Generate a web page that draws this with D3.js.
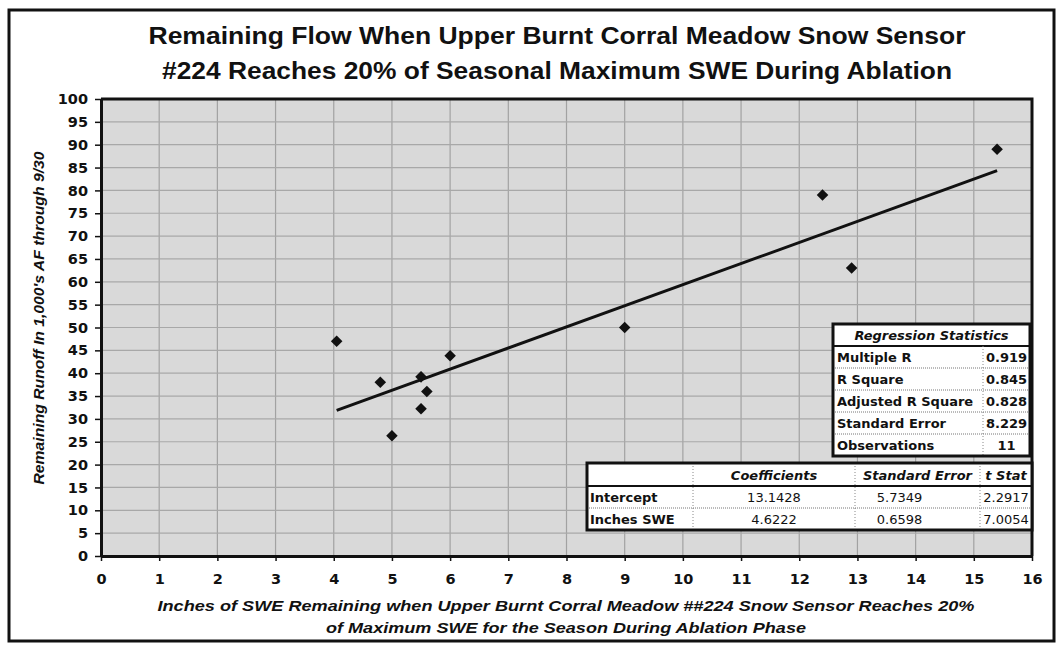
<!DOCTYPE html>
<html lang="en">
<head>
    <meta charset="UTF-8">
    <title>Remaining Flow - Upper Burnt Corral Meadow #224</title>
    <script src="https://cdn.jsdelivr.net/npm/d3@7"></script>
    <style>
        body { margin: 0; background: #fff; }
    </style>
</head>
<body>
<script type="application/javascript">
    // data
    const sweInches = [4.05, 4.8, 5.0, 5.5, 5.5, 5.6, 6.0, 9.0, 12.4, 12.9, 15.4];
    const runoffKaf = [47, 38, 26.3, 39.2, 32.2, 36, 43.8, 50, 79, 63, 89];
    const xTicks = d3.range(0, 17, 1);
    const yTicks = d3.range(0, 101, 5);

    // regression output
    const regStatLabels = ['Multiple R', 'R Square', 'Adjusted R Square', 'Standard Error', 'Observations'];
    const regStatValues = ['0.919', '0.845', '0.828', '8.229', '11'];
    const coefHeaders = ['', 'Coefficients', 'Standard Error', 't Stat'];
    const coefNames = ['Intercept', 'Inches SWE'];
    const coefValues = [['13.1428', '5.7349', '2.2917'], ['4.6222', '0.6598', '7.0054']];
    const intercept = 13.1428, slope = 4.6222;

    const w = 1057, h = 645;
    const ink = '#111';
    const arial = 'Arial, "Liberation Sans", sans-serif';
    const dejavu = '"DejaVu Sans", Arial, sans-serif';
    const svg = d3.select('body').append('svg')
        .attr('width', w)
        .attr('height', h)
        .attr('font-family', dejavu);

    // outer frame
    svg.append('rect')
        .attr('x', 9).attr('y', 10)
        .attr('width', 1045).attr('height', 631)
        .attr('fill', 'none').attr('stroke', ink).attr('stroke-width', 3);

    // title (the scan is wide, so widths are pinned)
    const title = svg.append('text')
        .attr('text-anchor', 'middle')
        .attr('font-family', arial)
        .attr('font-size', '23px').attr('font-weight', 'bold').attr('fill', ink);
    title.append('tspan').attr('x', 557).attr('y', 44)
        .attr('textLength', 817).attr('lengthAdjust', 'spacingAndGlyphs')
        .text('Remaining Flow When Upper Burnt Corral Meadow Snow Sensor');
    title.append('tspan').attr('x', 557).attr('y', 79)
        .attr('textLength', 790).attr('lengthAdjust', 'spacingAndGlyphs')
        .text('#224 Reaches 20% of Seasonal Maximum SWE During Ablation');

    const xScale = d3.scaleLinear().domain([0, 16]).range([101, 1032]);
    const yScale = d3.scaleLinear().domain([0, 100]).range([556, 99]);

    // plot area
    svg.append('rect')
        .attr('x', xScale(0)).attr('y', yScale(100))
        .attr('width', xScale(16) - xScale(0))
        .attr('height', yScale(0) - yScale(100))
        .attr('fill', '#d9d9d9');

    // grid
    svg.append('g').selectAll('line')
        .data(xTicks.slice(1, -1))
        .enter().append('line')
        .attr('x1', d => xScale(d)).attr('x2', d => xScale(d))
        .attr('y1', yScale(100)).attr('y2', yScale(0))
        .attr('stroke', '#a2a2a2').attr('stroke-width', 1.2);
    svg.append('g').selectAll('line')
        .data(yTicks.slice(1, -1))
        .enter().append('line')
        .attr('x1', xScale(0)).attr('x2', xScale(16))
        .attr('y1', d => yScale(d)).attr('y2', d => yScale(d))
        .attr('stroke', '#a8a8a8').attr('stroke-width', 1.2);

    // axes
    const xAxis = svg.append('g')
        .attr('transform', `translate(0,${yScale(0)})`)
        .call(d3.axisBottom(xScale).tickValues(xTicks).tickSize(5).tickPadding(13).tickSizeOuter(0));
    const yAxis = svg.append('g')
        .attr('transform', `translate(${xScale(0)},0)`)
        .call(d3.axisLeft(yScale).tickValues(yTicks).tickSize(6).tickPadding(7).tickSizeOuter(0));
    [xAxis, yAxis].forEach(a => {
        a.select('.domain').attr('stroke', ink).attr('stroke-width', 3);
        a.selectAll('.tick line').attr('stroke', ink).attr('stroke-width', 1.5);
        a.selectAll('.tick text')
            .attr('font-family', dejavu)
            .attr('font-size', '14.5px').attr('font-weight', 'bold').attr('fill', ink);
    });

    // top and right border of plot
    svg.append('path')
        .attr('d', `M${xScale(0)},${yScale(100)}H${xScale(16)}V${yScale(0)}`)
        .attr('fill', 'none').attr('stroke', ink).attr('stroke-width', 3);

    // axis titles
    const xTitle = svg.append('text')
        .attr('text-anchor', 'middle')
        .attr('font-family', arial)
        .attr('font-size', '15.5px').attr('font-weight', 'bold').attr('font-style', 'italic').attr('fill', ink);
    xTitle.append('tspan').attr('x', 566).attr('y', 611)
        .attr('textLength', 817).attr('lengthAdjust', 'spacingAndGlyphs')
        .text('Inches of SWE Remaining when Upper Burnt Corral Meadow ##224 Snow Sensor Reaches 20%');
    xTitle.append('tspan').attr('x', 566).attr('y', 633)
        .attr('textLength', 480).attr('lengthAdjust', 'spacingAndGlyphs')
        .text('of Maximum SWE for the Season During Ablation Phase');

    svg.append('text')
        .attr('transform', `translate(44,318) rotate(-90)`)
        .attr('text-anchor', 'middle')
        .attr('font-family', arial)
        .attr('font-size', '15px').attr('font-weight', 'bold').attr('font-style', 'italic').attr('fill', ink)
        .attr('textLength', 333).attr('lengthAdjust', 'spacingAndGlyphs')
        .text("Remaining Runoff In 1,000's AF through 9/30");

    // regression line
    const xMin = d3.min(sweInches), xMax = d3.max(sweInches);
    svg.append('line')
        .attr('x1', xScale(xMin)).attr('y1', yScale(intercept + slope * xMin))
        .attr('x2', xScale(xMax)).attr('y2', yScale(intercept + slope * xMax))
        .attr('stroke', ink).attr('stroke-width', 3);

    // points
    svg.append('g').selectAll('path')
        .data(sweInches.map((d, i) => [d, runoffKaf[i]]))
        .enter().append('path')
        .attr('transform', d => `translate(${xScale(d[0])},${yScale(d[1])})`)
        .attr('d', d3.symbol(d3.symbolDiamond2, 85))
        .attr('fill', ink);

    // regression statistics table
    const t1 = { x: 833, y: 324, w: 197, head: 22, row: 22, split: 983 };
    const g1 = svg.append('g');
    g1.append('rect')
        .attr('x', t1.x).attr('y', t1.y)
        .attr('width', t1.w).attr('height', t1.head + t1.row * regStatLabels.length)
        .attr('fill', '#fff');
    g1.append('text')
        .attr('x', t1.x + t1.w / 2).attr('y', t1.y + 16)
        .attr('text-anchor', 'middle')
        .attr('font-size', '13px').attr('font-weight', 'bold').attr('font-style', 'italic').attr('fill', ink)
        .text('Regression Statistics');
    g1.append('line')
        .attr('x1', t1.x).attr('x2', t1.x + t1.w)
        .attr('y1', t1.y + t1.head).attr('y2', t1.y + t1.head)
        .attr('stroke', ink).attr('stroke-width', 2);
    g1.append('line')
        .attr('x1', t1.split).attr('x2', t1.split)
        .attr('y1', t1.y + t1.head).attr('y2', t1.y + t1.head + t1.row * regStatLabels.length)
        .attr('stroke', '#888').attr('stroke-dasharray', '1,2');
    g1.selectAll('.sep')
        .data(regStatLabels.slice(1))
        .enter().append('line')
        .attr('x1', t1.x).attr('x2', t1.x + t1.w)
        .attr('y1', (d, i) => t1.y + t1.head + t1.row * (i + 1))
        .attr('y2', (d, i) => t1.y + t1.head + t1.row * (i + 1))
        .attr('stroke', '#777').attr('stroke-dasharray', '1,1');
    g1.selectAll('.lab')
        .data(regStatLabels)
        .enter().append('text')
        .attr('x', t1.x + 4)
        .attr('y', (d, i) => t1.y + t1.head + t1.row * i + 16)
        .attr('font-size', '13px').attr('font-weight', 'bold').attr('fill', ink)
        .text(d => d);
    g1.selectAll('.val')
        .data(regStatValues)
        .enter().append('text')
        .attr('x', (t1.split + t1.x + t1.w) / 2)
        .attr('y', (d, i) => t1.y + t1.head + t1.row * i + 16)
        .attr('text-anchor', 'middle')
        .attr('font-size', '13px').attr('font-weight', 'bold').attr('fill', ink)
        .text(d => d);
    g1.append('rect')
        .attr('x', t1.x).attr('y', t1.y)
        .attr('width', t1.w).attr('height', t1.head + t1.row * regStatLabels.length)
        .attr('fill', 'none').attr('stroke', ink).attr('stroke-width', 3);

    // coefficients table
    const cols = [587, 693, 855, 980, 1032];
    const t2 = { y: 463, head: 23, row: 22 };
    const g2 = svg.append('g');
    const t2h = t2.head + t2.row * coefNames.length;
    g2.append('rect')
        .attr('x', cols[0]).attr('y', t2.y)
        .attr('width', cols[4] - cols[0]).attr('height', t2h)
        .attr('fill', '#fff');
    g2.selectAll('.col')
        .data(cols.slice(1, -1))
        .enter().append('line')
        .attr('x1', d => d).attr('x2', d => d)
        .attr('y1', t2.y).attr('y2', t2.y + t2h)
        .attr('stroke', '#888').attr('stroke-dasharray', '1,2');
    g2.append('line')
        .attr('x1', cols[0]).attr('x2', cols[4])
        .attr('y1', t2.y + t2.head).attr('y2', t2.y + t2.head)
        .attr('stroke', ink).attr('stroke-width', 2);
    g2.append('line')
        .attr('x1', cols[0]).attr('x2', cols[4])
        .attr('y1', t2.y + t2.head + t2.row).attr('y2', t2.y + t2.head + t2.row)
        .attr('stroke', '#777').attr('stroke-dasharray', '1,1');
    g2.selectAll('.hd')
        .data(coefHeaders)
        .enter().append('text')
        .attr('x', (d, i) => (cols[i] + cols[i + 1]) / 2)
        .attr('y', t2.y + 17)
        .attr('text-anchor', 'middle')
        .attr('font-size', '13px').attr('font-weight', 'bold').attr('font-style', 'italic').attr('fill', ink)
        .text(d => d);
    g2.selectAll('.nm')
        .data(coefNames)
        .enter().append('text')
        .attr('x', cols[0] + 3)
        .attr('y', (d, i) => t2.y + t2.head + t2.row * i + 16)
        .attr('font-size', '13px').attr('font-weight', 'bold').attr('fill', ink)
        .text(d => d);
    coefValues.forEach((row, r) => {
        g2.selectAll('.v' + r)
            .data(row)
            .enter().append('text')
            .attr('x', (d, i) => (cols[i + 1] + cols[i + 2]) / 2 - (i === 1 ? 18 : 0))
            .attr('y', t2.y + t2.head + t2.row * r + 16)
            .attr('text-anchor', 'middle')
            .attr('font-size', '13px').attr('fill', ink)
            .text(d => d);
    });
    g2.append('rect')
        .attr('x', cols[0]).attr('y', t2.y)
        .attr('width', cols[4] - cols[0]).attr('height', t2h)
        .attr('fill', 'none').attr('stroke', ink).attr('stroke-width', 3);
</script>
</body>
</html>
